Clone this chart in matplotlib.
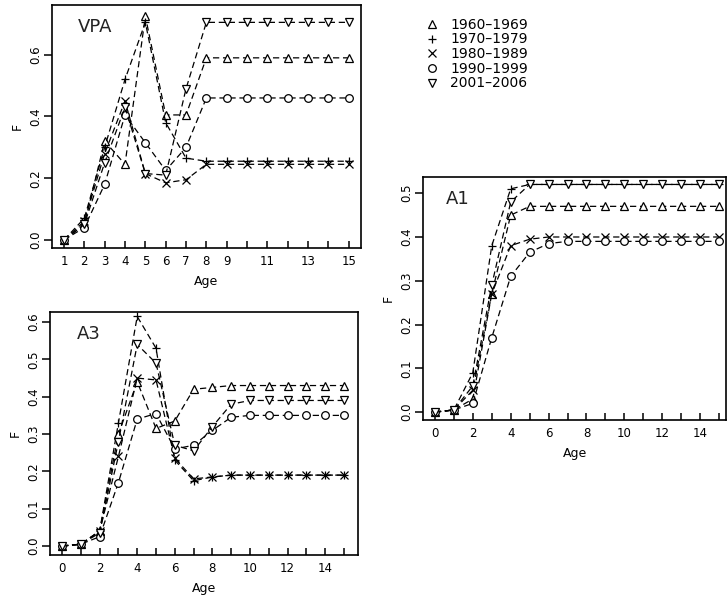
import matplotlib.pyplot as plt
from matplotlib.lines import Line2D

plt.rcParams["font.family"] = ["DejaVu Sans"]

periods = ["1960\u20131969", "1970\u20131979", "1980\u20131989", "1990\u20131999", "2001\u20132006"]
markers = ["^", "+", "x", "o", "v"]

# VPA, ages 1..15
vpa_age = list(range(1, 16))
vpa_60s = [0.0, 0.05, 0.32, 0.245, 0.725, 0.405, 0.405, 0.59, 0.59, 0.59, 0.59, 0.59, 0.59, 0.59, 0.59]
vpa_70s = [0.0, 0.07, 0.30, 0.52, 0.705, 0.38, 0.265, 0.255, 0.255, 0.255, 0.255, 0.255, 0.255, 0.255, 0.255]
vpa_80s = [0.0, 0.06, 0.28, 0.45, 0.215, 0.185, 0.195, 0.245, 0.245, 0.245, 0.245, 0.245, 0.245, 0.245, 0.245]
vpa_90s = [0.0, 0.04, 0.18, 0.405, 0.315, 0.225, 0.30, 0.46, 0.46, 0.46, 0.46, 0.46, 0.46, 0.46, 0.46]
vpa_00s = [0.0, 0.05, 0.25, 0.43, 0.215, 0.21, 0.49, 0.705, 0.705, 0.705, 0.705, 0.705, 0.705, 0.705, 0.705]

# A3, ages 0..15
a3_age = list(range(0, 16))
a3_60s = [0.0, 0.005, 0.04, 0.30, 0.44, 0.315, 0.335, 0.42, 0.425, 0.43, 0.43, 0.43, 0.43, 0.43, 0.43, 0.43]
a3_70s = [0.0, 0.005, 0.04, 0.33, 0.615, 0.53, 0.23, 0.175, 0.185, 0.19, 0.19, 0.19, 0.19, 0.19, 0.19, 0.19]
a3_80s = [0.0, 0.005, 0.04, 0.24, 0.45, 0.445, 0.235, 0.18, 0.185, 0.19, 0.19, 0.19, 0.19, 0.19, 0.19, 0.19]
a3_90s = [0.0, 0.005, 0.025, 0.17, 0.34, 0.355, 0.26, 0.27, 0.31, 0.345, 0.35, 0.35, 0.35, 0.35, 0.35, 0.35]
a3_00s = [0.0, 0.005, 0.035, 0.28, 0.54, 0.49, 0.27, 0.255, 0.32, 0.38, 0.39, 0.39, 0.39, 0.39, 0.39, 0.39]

# A1, ages 0..15
a1_age = list(range(0, 16))
a1_60s = [0.0, 0.005, 0.03, 0.27, 0.45, 0.47, 0.47, 0.47, 0.47, 0.47, 0.47, 0.47, 0.47, 0.47, 0.47, 0.47]
a1_70s = [0.0, 0.005, 0.09, 0.38, 0.51, 0.52, 0.52, 0.52, 0.52, 0.52, 0.52, 0.52, 0.52, 0.52, 0.52, 0.52]
a1_80s = [0.0, 0.005, 0.05, 0.27, 0.38, 0.395, 0.40, 0.40, 0.40, 0.40, 0.40, 0.40, 0.40, 0.40, 0.40, 0.40]
a1_90s = [0.0, 0.005, 0.02, 0.17, 0.31, 0.365, 0.385, 0.39, 0.39, 0.39, 0.39, 0.39, 0.39, 0.39, 0.39, 0.39]
a1_00s = [0.0, 0.005, 0.06, 0.29, 0.48, 0.52, 0.52, 0.52, 0.52, 0.52, 0.52, 0.52, 0.52, 0.52, 0.52, 0.52]


def draw_panel(ax, ages, series, label, label_x):
    for ys, m in zip(series, markers):
        ax.plot(ages, ys, linestyle=(0, (5, 3)), color="black", linewidth=0.9,
                marker=m, markersize=5.5, markerfacecolor="white",
                markeredgecolor="black", markeredgewidth=0.9)
    ax.text(label_x, 0.945, label, transform=ax.transAxes, fontsize=13, va="top",
            color="#222222")
    ax.set_xlabel("Age", fontsize=9, labelpad=5)
    ax.set_ylabel("F", fontsize=9, labelpad=4)
    ax.tick_params(axis="x", direction="in", length=5, width=1.1, pad=5, labelsize=8.5)
    ax.tick_params(axis="y", direction="out", length=6, width=1.1, pad=1, labelsize=8.5)
    for sp in ax.spines.values():
        sp.set_linewidth(1.2)


fig = plt.figure(figsize=(7.27, 5.96), dpi=100)

ax_vpa = fig.add_axes([0.0715, 0.584, 0.425, 0.408])
draw_panel(ax_vpa, vpa_age, [vpa_60s, vpa_70s, vpa_80s, vpa_90s, vpa_00s], "VPA", 0.084)
ax_vpa.set_xlim(0.41, 15.6)
ax_vpa.set_ylim(-0.026, 0.762)
ax_vpa.set_xticks(vpa_age)
ax_vpa.set_xticklabels([str(a) if (a <= 9 or a % 2 == 1) else "" for a in vpa_age])
ax_vpa.set_yticks([0.0, 0.2, 0.4, 0.6])
ax_vpa.set_yticklabels(["0.0", "0.2", "0.4", "0.6"], rotation=90, va="center")

ax_a3 = fig.add_axes([0.0688, 0.0688, 0.4237, 0.4077])
draw_panel(ax_a3, a3_age, [a3_60s, a3_70s, a3_80s, a3_90s, a3_00s], "A3", 0.088)
ax_a3.set_xlim(-0.64, 15.75)
ax_a3.set_ylim(-0.024, 0.627)
ax_a3.set_xticks(a3_age)
ax_a3.set_xticklabels([str(a) if a % 2 == 0 else "" for a in a3_age])
ax_a3.set_yticks([0.0, 0.1, 0.2, 0.3, 0.4, 0.5, 0.6])
ax_a3.set_yticklabels(["0.0", "0.1", "0.2", "0.3", "0.4", "0.5", "0.6"], rotation=90, va="center")

ax_a1 = fig.add_axes([0.5818, 0.2953, 0.4170, 0.4077])
draw_panel(ax_a1, a1_age, [a1_60s, a1_70s, a1_80s, a1_90s, a1_00s], "A1", 0.075)
ax_a1.set_xlim(-0.63, 15.37)
ax_a1.set_ylim(-0.018, 0.537)
ax_a1.set_xticks(a1_age)
ax_a1.set_xticklabels([str(a) if a % 2 == 0 else "" for a in a1_age])
ax_a1.set_yticks([0.0, 0.1, 0.2, 0.3, 0.4, 0.5])
ax_a1.set_yticklabels(["0.0", "0.1", "0.2", "0.3", "0.4", "0.5"], rotation=90, va="center")

handles = [Line2D([], [], linestyle="none", marker=m, markersize=5.5, color="black",
                  markerfacecolor="white", markeredgewidth=0.9) for m in markers]
fig.legend(handles, periods, loc="upper left", bbox_to_anchor=(0.575, 0.982),
           frameon=False, fontsize=10, labelspacing=0.05, handlelength=1.0,
           handletextpad=0.8, borderpad=0)

fig.savefig("out.png", dpi=100)
